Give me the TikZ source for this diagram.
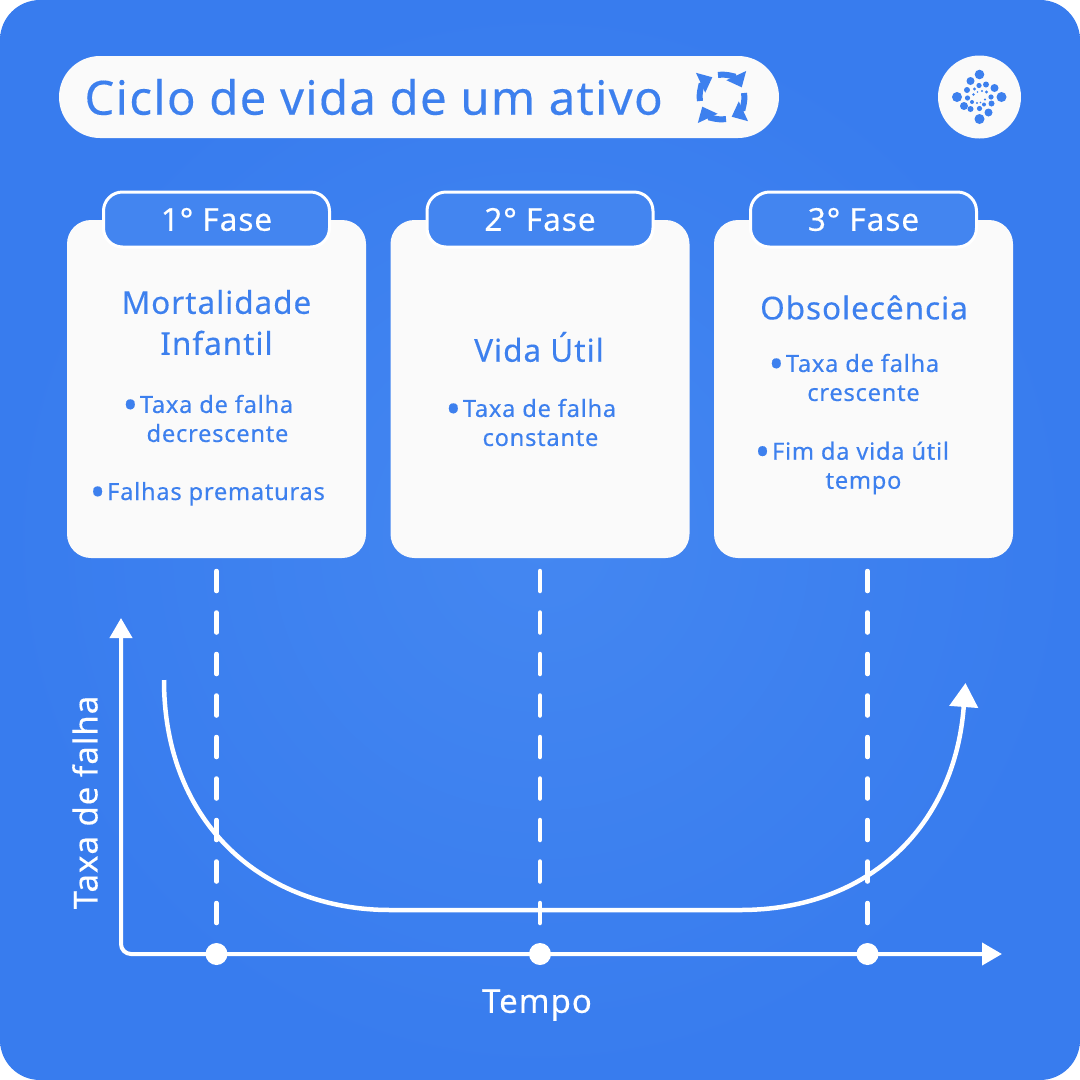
\documentclass[tikz,border=0pt]{standalone}
\usepackage{fontspec}
\usepackage{xcolor}
\usetikzlibrary{arrows.meta}
\setmainfont{Noto Sans}[LetterSpace=3,FakeBold=0.25]
\definecolor{bluebg}{HTML}{387CEE}
\definecolor{bluemid}{HTML}{4487F1}
\definecolor{bluetab}{HTML}{4385F0}
\definecolor{bluetext}{HTML}{3D80EE}
\definecolor{cardwhite}{HTML}{FAFAFA}
\newcommand{\cardbullet}{\raisebox{-6pt}{\fontsize{40}{40}\selectfont\textbullet}\kern2pt}
\tikzset{
  cardbox/.style={fill=cardwhite, rounded corners=24pt, minimum width=299pt, minimum height=338pt, inner sep=0pt},
  tabbox/.style={draw=white, line width=3pt, fill=bluetab, rounded corners=19pt, minimum width=226pt, minimum height=55pt, inner sep=0pt, text=white, font=\fontsize{31.5}{36}\selectfont},
  cardtitle/.style={text=bluetext, align=center, font=\fontsize{31.5}{41}\selectfont},
  cardtext/.style={text=bluetext, align=center, font=\fontsize{23.7}{29}\selectfont},
  axisline/.style={white, line width=4pt, rounded corners=10pt},
  phaseline/.style={white, line width=4.5pt, line cap=round, dash pattern=on 20pt off 21.5pt},
  phasedot/.style={circle, fill=white, minimum size=22pt, inner sep=0pt},
  axislabel/.style={text=white, font=\fontsize{33}{38}\selectfont},
}
\begin{document}
\begin{tikzpicture}[x=1pt, y=-1pt]
\useasboundingbox (0,0) rectangle (1080,1080);
\fill[white] (0,0) rectangle (1080,1080);
% Background
\shade[rounded corners=40pt, inner color=bluemid, outer color=bluebg] (0,0) rectangle (1080,1080);

% Title
\node[fill=cardwhite, rounded corners=41pt, minimum width=720pt, minimum height=82pt, inner sep=0pt] (titlebox) at (419,97) {};
\node[text=bluetext, anchor=west, font=\fontsize{47.2}{60}\selectfont] (title) at (81,97) {Ciclo de vida de um ativo};

% Cycle icon
\foreach \r in {0,90,180,270}
  \draw[bluetext, line width=6pt, -{Triangle[length=13pt,width=21pt]}, rotate around={\r:(722,97)}] (718,75) arc (-100:-25:22);

% Logo
\node[circle, fill=cardwhite, minimum size=83pt, inner sep=0pt] (logo) at (979.5,97) {};
\foreach \px/\py/\pr in {0/-22.5/4.8, -9/-16/4, 15/-9/4, -22.5/0/5, 22/0/5, -15.5/9/4, 9/15.5/4, 0/22/5,
  -12.5/-7/3, -0.5/-11.5/2.6, 6.5/-12.5/3, 11.5/0/2.6, 12/6.5/3, -9/12/3, 0/11.5/2.6, -12/1/2.6,
  -5/-8/1.7, 7/-5/1.7, -7.5/5/2, 4.5/7.5/2, -6/-2.5/1.3, 2.5/-6/1.1, 5.5/2.5/1.1, -2.5/6/1.1, 1/5.5/.9, -2/-5/.9}
  \fill[bluetext] (979.5+\px,97+\py) circle (\pr);

% Cards
\node[cardbox] (card1) at (216.5,389) {};
\node[cardbox] (card2) at (540,389) {};
\node[cardbox] (card3) at (863.5,389) {};

% Tabs
\node[tabbox] (tab1) at (216.5,219.5) {1° Fase};
\node[tabbox] (tab2) at (540,219.5) {2° Fase};
\node[tabbox] (tab3) at (863.5,219.5) {3° Fase};

% Card texts
\node[cardtitle] (title1) at (216.5,322.5) {Mortalidade\\Infantil};
\node[cardtext] (text1a) at (208,418.5) {\cardbullet Taxa de falha\\\hspace*{19pt}decrescente};
\node[cardtext] (text1b) at (207.5,494) {\cardbullet Falhas prematuras};
\node[cardtitle] (title2) at (539,347) {Vida Útil};
\node[cardtext] (text2a) at (531,422.5) {\cardbullet Taxa de falha\\\hspace*{19pt}constante};
\node[cardtitle] (title3) at (864,307.5) {Obsolecência};
\node[cardtext] (text3a) at (854,377.5) {\cardbullet Taxa de falha\\\hspace*{19pt}crescente};
\node[cardtext] (text3b) at (852,468) {\cardbullet Fim da vida útil\\\hspace*{23pt}tempo};

% Axes
\coordinate (ytop) at (121,618);
\coordinate (xend) at (1002,954);
\draw[axisline, {Triangle[length=20pt,width=22pt]}-{Triangle[length=20pt,width=22pt]}] (ytop) |- (xend);

% Phase markers
\node[phasedot] (dot1) at (216.5,954) {};
\node[phasedot] (dot2) at (540,954) {};
\node[phasedot] (dot3) at (867.5,954) {};
\coordinate (start1) at (216.5,571);
\coordinate (start2) at (540,571);
\coordinate (start3) at (867.5,571);
\draw[phaseline] (start1) -- (dot1);
\draw[phaseline] (start2) -- (dot2);
\draw[phaseline] (start3) -- (dot3);

% Failure curve
\coordinate (curvestart) at (164,680);
\coordinate (curveend) at (965.5,683);
\draw[white, line width=4.5pt, -{Triangle[length=24pt,width=28pt]}] (curvestart) .. controls (164,825) and (265,910) .. (390,910) -- (740,910) .. controls (870,910) and (955,825) .. (curveend);

% Axis labels
\node[axislabel, rotate=90] (ylabel) at (85,802.5) {Taxa de falha};
\node[axislabel] (xlabel) at (537,1005) {Tempo};
\end{tikzpicture}
\end{document}
